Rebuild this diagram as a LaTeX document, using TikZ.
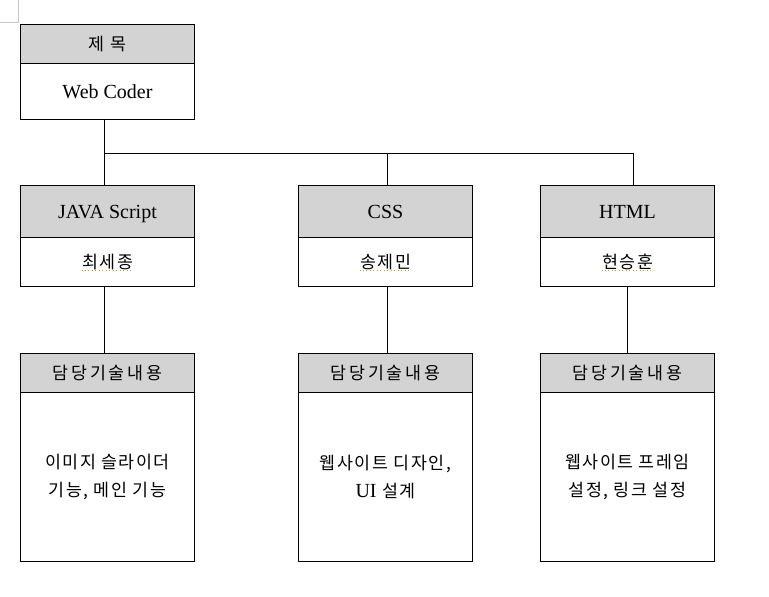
\documentclass[tikz,border=0pt]{standalone}
\usepackage{fontspec}
\setmainfont{Liberation Serif}
\newfontfamily\kr{Noto Sans CJK KR}
\newfontfamily\krwide{Noto Sans CJK KR}[LetterSpace=16]
\newfontfamily\krmid{Noto Sans CJK KR}[LetterSpace=9]
\usetikzlibrary{calc}
\definecolor{hdrgray}{HTML}{D3D3D3}
\definecolor{squig}{HTML}{E8901A}
\tikzset{
  box/.style={draw=black, line width=0.75pt, rectangle, inner sep=0pt, anchor=north west,
    minimum width=130.5pt, align=center, text=black},
  hdr/.style={box, fill=hdrgray},
  bdy/.style={box, fill=white},
  conn/.style={draw=black, line width=0.75pt},
  latin/.style={font=\fontsize{15}{21}\selectfont, text depth=0pt},
  korean/.style={font=\krmid\fontsize{13}{21}\selectfont},
  koreanwide/.style={font=\krwide\fontsize{13}{21}\selectfont},
  squiggle/.style={draw=squig, line width=0.6pt, dotted}
}
\begin{document}
\begin{tikzpicture}[x=0.75pt, y=-0.75pt]
\useasboundingbox (0,0) rectangle (769,597);
% page corner mark
\draw[draw=black!22, line width=0.75pt] (18,0) -- (18,22) -- (0,22);

% title box
\node[hdr, korean, minimum height=29.25pt] (th) at (20,24) {제 목};
\node[bdy, latin, minimum height=42pt] (tb) at (20,63) {Web Coder};

% second row
\node[hdr, latin, minimum height=39pt] (ah) at (20,185) {JAVA Script};
\node[bdy, korean, minimum height=36.75pt] (ab) at (20,237) {최세종};
\node[hdr, latin, minimum height=39pt] (bh) at (298,185) {CSS};
\node[bdy, korean, minimum height=36.75pt] (bb) at (298,237) {송제민};
\node[hdr, latin, minimum height=39pt] (ch) at (540,185) {HTML};
\node[bdy, korean, minimum height=36.75pt] (cb) at (540,237) {현승훈};

% third row
\node[hdr, koreanwide, minimum height=29.25pt] (ad) at (20,353) {담당기술내용};
\node[bdy, korean, minimum height=126.75pt] (at) at (20,392) {이미지 슬라이더\\기능, 메인 기능};
\node[hdr, koreanwide, minimum height=29.25pt] (bd) at (298,353) {담당기술내용};
\node[bdy, korean, minimum height=126.75pt] (bt) at (298,392) {웹사이트 디자인,\\{\fontspec{Liberation Serif}\fontsize{15}{21}\selectfont UI} 설계};
\node[hdr, koreanwide, minimum height=29.25pt] (cd) at (540,353) {담당기술내용};
\node[bdy, korean, minimum height=126.75pt] (ct) at (540,392) {웹사이트 프레임\\설정, 링크 설정};

% spell-check underlines
\draw[squiggle] ($(ab.center)+(-26,8)$) -- ($(ab.center)+(26,8)$);
\draw[squiggle] ($(bb.center)+(-26,8)$) -- ($(bb.center)+(26,8)$);
\draw[squiggle] ($(cb.center)+(-26,8)$) -- ($(cb.center)+(26,8)$);

% connectors
\coordinate (ja) at (104,153);
\coordinate (jb) at (387,153);
\coordinate (jc) at (633,153);
\draw[conn] (tb.south -| ja) -- (ja);
\draw[conn] (ja) -- (jc);
\draw[conn] (ja) -- (ah.north -| ja);
\draw[conn] (jb) -- (bh.north -| jb);
\draw[conn] (jc) -- (ch.north -| jc);
\draw[conn] (ab.south -| ja) -- (ad.north -| ja);
\draw[conn] (bb.south -| jb) -- (bd.north -| jb);
\draw[conn] (cb.south) -- (cd.north);
\end{tikzpicture}
\end{document}
